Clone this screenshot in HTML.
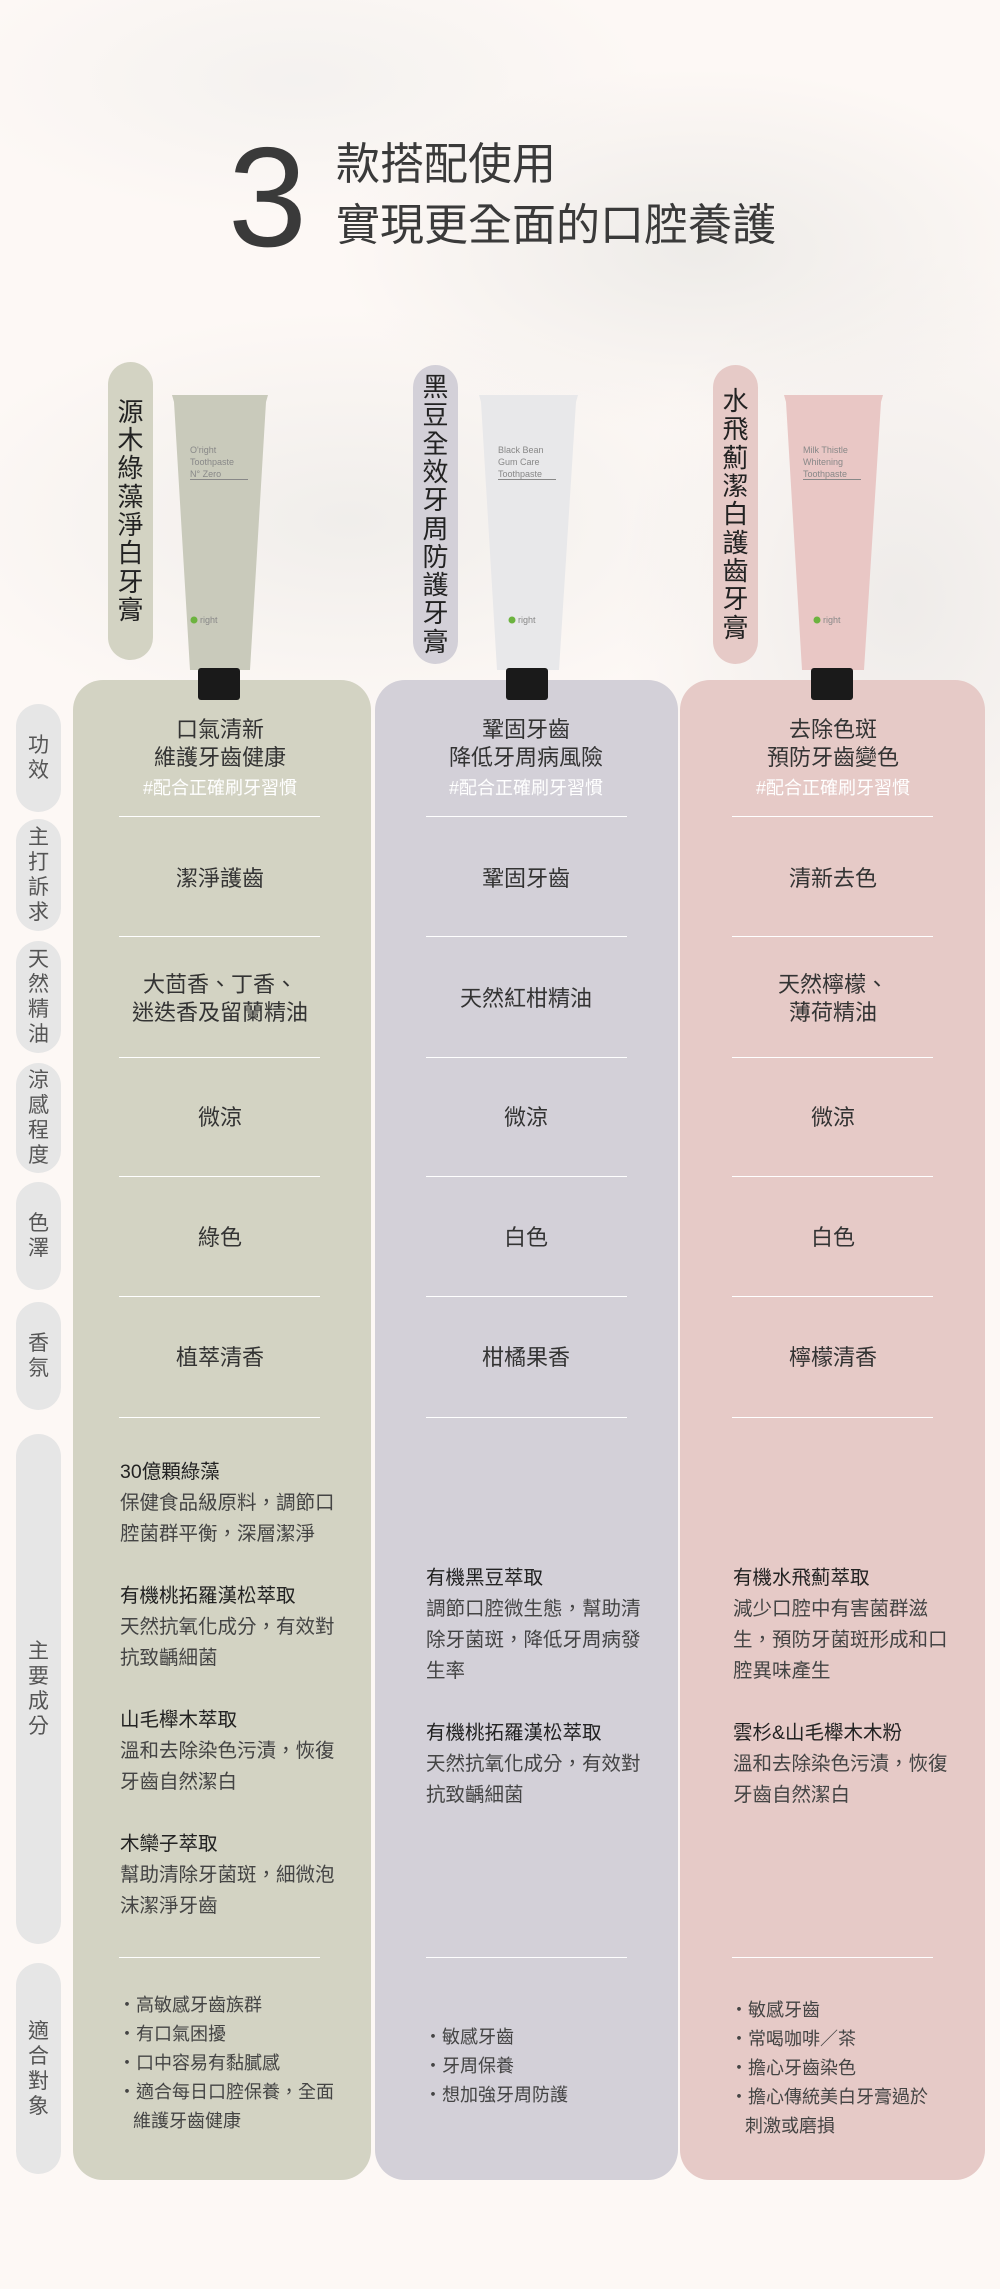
<!DOCTYPE html>
<html><head><meta charset="utf-8">
<style>
*{margin:0;padding:0;box-sizing:border-box}
body{width:1000px;height:2289px;position:relative;overflow:hidden;background:#fdf8f5;font-family:"Liberation Sans","Noto Sans CJK TC",sans-serif;color:#333}
.a{position:absolute}
.bg{position:absolute;left:0;top:0;width:1000px;height:1100px;background:
radial-gradient(ellipse 520px 260px at 700px 250px,rgba(236,234,231,.9),rgba(236,234,231,0) 70%),
radial-gradient(ellipse 600px 300px at 350px 520px,rgba(238,236,233,.85),rgba(238,236,233,0) 70%),
radial-gradient(ellipse 400px 500px at 900px 600px,rgba(232,230,228,.7),rgba(232,230,228,0) 70%),
radial-gradient(ellipse 500px 200px at 300px 80px,rgba(242,240,238,.8),rgba(242,240,238,0) 70%)}
.col{position:absolute;top:680px;height:1500px;border-radius:30px}
.lab{position:absolute;left:16px;width:45px;border-radius:23px;background:#e6e6e6;display:flex;align-items:center;justify-content:center;text-align:center;font-size:21px;line-height:25px;color:#555}
.pill{position:absolute;width:45px;border-radius:23px;display:flex;align-items:center;justify-content:center;text-align:center;font-size:26px;line-height:28.3px;color:#222}
.hr{position:absolute;height:1px;background:#fff;width:201px}
.t{position:absolute;text-align:center;font-size:22px;line-height:28px;color:#333;width:300px}
.h{position:absolute;text-align:center;font-size:18px;line-height:22px;color:#fff;width:300px}
.ing{position:absolute;font-size:19.5px;line-height:31px;color:#444;width:230px;white-space:nowrap}
.ing b{font-weight:normal;color:#222}
.lst{position:absolute;font-size:18px;line-height:29px;color:#444;white-space:nowrap}
.tl{position:absolute;font-size:9px;line-height:12px;color:#888;font-family:"Liberation Sans",sans-serif}
</style></head><body>
<div class="bg"></div>
<div class="a" style="left:228px;top:118px;font-size:142px;line-height:160px;color:#3a3a3a;font-weight:300">3</div>
<div class="a" style="left:336px;top:134px;font-size:44px;line-height:61px;color:#3a3a3a;white-space:nowrap">款搭配使用<br>實現更全面的口腔養護</div>

<div class="pill" style="left:108px;top:362px;height:298px;background:#d3d3c3">源<br>木<br>綠<br>藻<br>淨<br>白<br>牙<br>膏</div>
<div class="pill" style="left:413px;top:365px;height:299px;background:#d3d0d8">黑<br>豆<br>全<br>效<br>牙<br>周<br>防<br>護<br>牙<br>膏</div>
<div class="pill" style="left:713px;top:365px;height:299px;background:#e6cac7">水<br>飛<br>薊<br>潔<br>白<br>護<br>齒<br>牙<br>膏</div>

<div class="col" style="left:73px;width:298px;background:#d3d3c3"></div>
<div class="col" style="left:375px;width:303px;background:#d3d0d8"></div>
<div class="col" style="left:680px;width:305px;background:#e6cac7"></div>

<svg class="a" style="left:0;top:390px" width="1000" height="315">
<g><polygon points="172,5 268,5 266,12 250,280 190,280 174,12" fill="#c9cabb"/><rect x="198" y="278" width="42" height="32" rx="3" fill="#1a1a1a"/><rect x="190" y="89" width="58" height="1" fill="#888"/><circle cx="194" cy="230" r="3.5" fill="#6cb33f"/></g>
<g><polygon points="479,5 578,5 576,12 559,280 497,280 481,12" fill="#e8e8ea"/><rect x="506" y="278" width="42" height="32" rx="3" fill="#1a1a1a"/><rect x="498" y="89" width="58" height="1" fill="#888"/><circle cx="512" cy="230" r="3.5" fill="#6cb33f"/></g>
<g><polygon points="784,5 883,5 881,12 864,280 802,280 786,12" fill="#e9c7c5"/><rect x="811" y="278" width="42" height="32" rx="3" fill="#1a1a1a"/><rect x="803" y="89" width="58" height="1" fill="#888"/><circle cx="817" cy="230" r="3.5" fill="#6cb33f"/></g>
</svg>
<div class="tl" style="left:190px;top:444px">O'right<br>Toothpaste<br>N° Zero</div>
<div class="tl" style="left:498px;top:444px">Black Bean<br>Gum Care<br>Toothpaste</div>
<div class="tl" style="left:803px;top:444px">Milk Thistle<br>Whitening<br>Toothpaste</div>
<div class="tl" style="left:200px;top:614px">right</div>
<div class="tl" style="left:518px;top:614px">right</div>
<div class="tl" style="left:823px;top:614px">right</div>

<div class="lab" style="top:704px;height:108px">功<br>效</div>
<div class="lab" style="top:819px;height:112px">主<br>打<br>訴<br>求</div>
<div class="lab" style="top:941px;height:112px">天<br>然<br>精<br>油</div>
<div class="lab" style="top:1063px;height:110px">涼<br>感<br>程<br>度</div>
<div class="lab" style="top:1182px;height:108px">色<br>澤</div>
<div class="lab" style="top:1302px;height:108px">香<br>氛</div>
<div class="lab" style="top:1434px;height:510px">主<br>要<br>成<br>分</div>
<div class="lab" style="top:1963px;height:211px">適<br>合<br>對<br>象</div>

<!-- dividers -->
<div class="hr" style="left:119px;top:816px"></div><div class="hr" style="left:426px;top:816px"></div><div class="hr" style="left:732px;top:816px"></div>
<div class="hr" style="left:119px;top:936px"></div><div class="hr" style="left:426px;top:936px"></div><div class="hr" style="left:732px;top:936px"></div>
<div class="hr" style="left:119px;top:1057px"></div><div class="hr" style="left:426px;top:1057px"></div><div class="hr" style="left:732px;top:1057px"></div>
<div class="hr" style="left:119px;top:1176px"></div><div class="hr" style="left:426px;top:1176px"></div><div class="hr" style="left:732px;top:1176px"></div>
<div class="hr" style="left:119px;top:1296px"></div><div class="hr" style="left:426px;top:1296px"></div><div class="hr" style="left:732px;top:1296px"></div>
<div class="hr" style="left:119px;top:1417px"></div><div class="hr" style="left:426px;top:1417px"></div><div class="hr" style="left:732px;top:1417px"></div>
<div class="hr" style="left:119px;top:1957px"></div><div class="hr" style="left:426px;top:1957px"></div><div class="hr" style="left:732px;top:1957px"></div>

<!-- row 1 -->
<div class="t" style="left:70px;top:716px">口氣清新<br>維護牙齒健康</div>
<div class="t" style="left:376px;top:716px">鞏固牙齒<br>降低牙周病風險</div>
<div class="t" style="left:683px;top:716px">去除色斑<br>預防牙齒變色</div>
<div class="h" style="left:70px;top:777px">#配合正確刷牙習慣</div>
<div class="h" style="left:376px;top:777px">#配合正確刷牙習慣</div>
<div class="h" style="left:683px;top:777px">#配合正確刷牙習慣</div>
<!-- row 2 -->
<div class="t" style="left:70px;top:865px">潔淨護齒</div>
<div class="t" style="left:376px;top:865px">鞏固牙齒</div>
<div class="t" style="left:683px;top:865px">清新去色</div>
<!-- row 3 -->
<div class="t" style="left:70px;top:971px">大茴香、丁香、<br>迷迭香及留蘭精油</div>
<div class="t" style="left:376px;top:985px">天然紅柑精油</div>
<div class="t" style="left:683px;top:971px">天然檸檬、<br>薄荷精油</div>
<!-- row 4 -->
<div class="t" style="left:70px;top:1104px">微涼</div>
<div class="t" style="left:376px;top:1104px">微涼</div>
<div class="t" style="left:683px;top:1104px">微涼</div>
<!-- row 5 -->
<div class="t" style="left:70px;top:1224px">綠色</div>
<div class="t" style="left:376px;top:1224px">白色</div>
<div class="t" style="left:683px;top:1224px">白色</div>
<!-- row 6 -->
<div class="t" style="left:70px;top:1344px">植萃清香</div>
<div class="t" style="left:376px;top:1344px">柑橘果香</div>
<div class="t" style="left:683px;top:1344px">檸檬清香</div>

<!-- ingredients -->
<div class="ing" style="left:120px;top:1457px"><b>30億顆綠藻</b><br>保健食品級原料，調節口<br>腔菌群平衡，深層潔淨<br>&nbsp;<br><b>有機桃拓羅漢松萃取</b><br>天然抗氧化成分，有效對<br>抗致齲細菌<br>&nbsp;<br><b>山毛櫸木萃取</b><br>溫和去除染色污漬，恢復<br>牙齒自然潔白<br>&nbsp;<br><b>木欒子萃取</b><br>幫助清除牙菌斑，細微泡<br>沫潔淨牙齒</div>
<div class="ing" style="left:426px;top:1563px"><b>有機黑豆萃取</b><br>調節口腔微生態，幫助清<br>除牙菌斑，降低牙周病發<br>生率<br>&nbsp;<br><b>有機桃拓羅漢松萃取</b><br>天然抗氧化成分，有效對<br>抗致齲細菌</div>
<div class="ing" style="left:733px;top:1563px"><b>有機水飛薊萃取</b><br>減少口腔中有害菌群滋<br>生，預防牙菌斑形成和口<br>腔異味產生<br>&nbsp;<br><b>雲杉&amp;山毛櫸木木粉</b><br>溫和去除染色污漬，恢復<br>牙齒自然潔白</div>

<!-- suitable -->
<div class="lst" style="left:118px;top:1991px">・高敏感牙齒族群<br>・有口氣困擾<br>・口中容易有黏膩感<br>・適合每日口腔保養，全面<br>&nbsp;&nbsp;&nbsp;維護牙齒健康</div>
<div class="lst" style="left:424px;top:2023px">・敏感牙齒<br>・牙周保養<br>・想加強牙周防護</div>
<div class="lst" style="left:730px;top:1996px">・敏感牙齒<br>・常喝咖啡／茶<br>・擔心牙齒染色<br>・擔心傳統美白牙膏過於<br>&nbsp;&nbsp;&nbsp;刺激或磨損</div>
</body></html>
